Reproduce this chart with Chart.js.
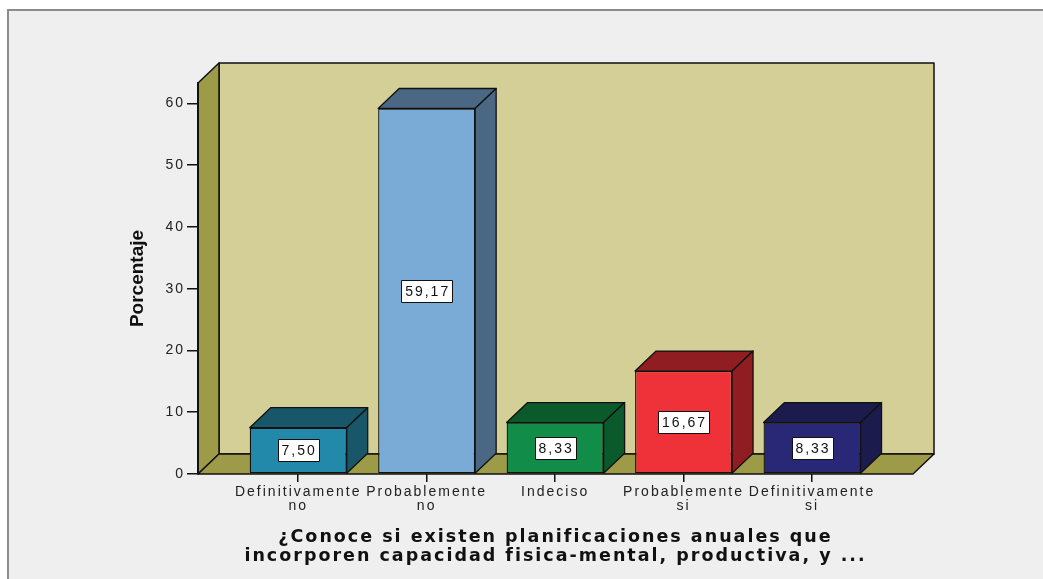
<!DOCTYPE html>
<html>
<head>
<meta charset="utf-8">
<script src="https://cdn.jsdelivr.net/npm/chart.js@4.4.1/dist/chart.umd.min.js"></script>
<style>
  html, body { margin: 0; padding: 0; background: #fff; }
  canvas { display: block; }
</style>
</head>
<body>
<canvas id="chart" width="1043" height="579"></canvas>
<script>
/* ---------- data ---------- */
const categories = [
  ['Definitivamente', 'no'],
  ['Probablemente', 'no'],
  ['Indeciso'],
  ['Probablemente', 'si'],
  ['Definitivamente', 'si']
];
const percentages = [7.50, 59.17, 8.33, 16.67, 8.33];
const yTicks = [0, 10, 20, 30, 40, 50, 60];

const yTitle = 'Porcentaje';
const xTitle = [
  '¿Conoce si existen planificaciones anuales que',
  'incorporen capacidad fisica-mental, productiva, y ...'
];

/* front face / darker top+side face per bar */
const frontColors = ['#2389ab', '#7aaad6', '#128d49', '#ef3139', '#282876'];
const shadeColors = ['#185669', '#4a6883', '#0b5a2c', '#8f1d22', '#1b1b4d'];

/* 3d depth offset */
const DX = 21, DY = 20;
const LINE = '#111';
const SPACING = '2px';   // the original renders its text a bit spread out

/* comma decimal like the original */
const fmt = v => v.toFixed(2).replace('.', ',');

function poly(ctx, pts, fill) {
  ctx.beginPath();
  ctx.moveTo(pts[0][0], pts[0][1]);
  for (let i = 1; i < pts.length; i++) ctx.lineTo(pts[i][0], pts[i][1]);
  ctx.closePath();
  ctx.fillStyle = fill;
  ctx.fill();
  ctx.stroke();
}

/* background frame + back wall, side wall and floor, then bar tops/sides */
const frame3d = {
  id: 'frame3d',
  beforeLayout(chart) { chart.ctx.letterSpacing = SPACING; },
  beforeDraw(chart) {
    const { ctx, chartArea: a } = chart;
    ctx.save();
    ctx.fillStyle = '#fff';
    ctx.fillRect(0, 0, chart.width, chart.height);
    ctx.fillStyle = '#efefef';
    ctx.fillRect(8, 10, chart.width, chart.height);
    ctx.strokeStyle = '#8c8c8c';
    ctx.lineWidth = 2;
    ctx.beginPath();
    ctx.moveTo(8, chart.height + 2);
    ctx.lineTo(8, 10);
    ctx.lineTo(chart.width + 2, 10);
    ctx.stroke();

    ctx.strokeStyle = LINE;
    ctx.lineWidth = 1.5;
    ctx.lineJoin = 'round';
    // back wall
    poly(ctx, [[a.left + DX, a.top - DY], [a.right + DX, a.top - DY],
               [a.right + DX, a.bottom - DY], [a.left + DX, a.bottom - DY]], '#d3cf97');
    // left wall
    poly(ctx, [[a.left, a.top], [a.left + DX, a.top - DY],
               [a.left + DX, a.bottom - DY], [a.left, a.bottom]], '#9e9b48');
    // floor
    poly(ctx, [[a.left, a.bottom], [a.left + DX, a.bottom - DY],
               [a.right + DX, a.bottom - DY], [a.right, a.bottom]], '#9e9b48');
    ctx.restore();
    ctx.letterSpacing = SPACING;
  },
  afterDatasetsDraw(chart) {
    const { ctx } = chart;
    const meta = chart.getDatasetMeta(0);
    ctx.save();
    ctx.strokeStyle = LINE;
    ctx.lineWidth = 1.3;
    ctx.lineJoin = 'round';
    meta.data.forEach((bar, i) => {
      const { x, y, base, width } = bar.getProps(['x', 'y', 'base', 'width'], true);
      const l = x - width / 2, r = x + width / 2;
      // top face
      poly(ctx, [[l, y], [l + DX, y - DY], [r + DX, y - DY], [r, y]], shadeColors[i]);
      // right side face
      poly(ctx, [[r, y], [r + DX, y - DY], [r + DX, base - DY], [r, base]], shadeColors[i]);
    });

    // value boxes
    ctx.font = '14px "Liberation Sans", Arial, sans-serif';
    ctx.textAlign = 'center';
    ctx.textBaseline = 'middle';
    ctx.lineWidth = 1;
    meta.data.forEach((bar, i) => {
      const { x, y, base } = bar.getProps(['x', 'y', 'base'], true);
      const txt = fmt(percentages[i]);
      const w = Math.round(ctx.measureText(txt).width + 6);
      const h = 22;
      const bx = Math.round(x - w / 2) + 0.5, by = Math.round((y + base) / 2 - h / 2) + 0.5;
      ctx.fillStyle = '#fff';
      ctx.fillRect(bx, by, w, h);
      ctx.strokeRect(bx, by, w, h);
      ctx.fillStyle = '#111';
      ctx.fillText(txt, x + 1, by + h / 2 + 1);
    });
    ctx.restore();
    // the y title layer (z:1) is drawn after this, without spacing
    ctx.letterSpacing = '0px';
  }
};

const tickFont = { family: '"Liberation Sans", Arial, sans-serif', size: 14, lineHeight: 1.0 };

new Chart(document.getElementById('chart'), {
  type: 'bar',
  data: {
    datasets: [{
      data: percentages.map((v, i) => ({ x: i, y: v })),
      backgroundColor: frontColors,
      borderColor: LINE,
      borderWidth: 1.3,
      borderSkipped: false,
      categoryPercentage: 1,
      barPercentage: 0.755
    }]
  },
  options: {
    responsive: false,
    animation: false,
    layout: { padding: { top: 83, right: 130, bottom: 0, left: 0 } },
    plugins: { legend: { display: false }, tooltip: { enabled: false } },
    scales: {
      x: {
        type: 'linear',
        offset: false,
        min: -0.78,
        max: 4.786,
        afterBuildTicks: s => { s.ticks = categories.map((c, i) => ({ value: i })); },
        afterFit: s => { s.height = 105; },
        grid: { offset: false, drawOnChartArea: false, tickLength: 8, color: LINE, lineWidth: 1.5 },
        border: { display: false },
        ticks: {
          callback: v => categories[v],
          font: tickFont,
          color: '#222',
          padding: 3,
          maxRotation: 0,
          autoSkip: false
        },
        title: {
          display: true,
          text: xTitle,
          color: '#111',
          font: { family: '"DejaVu Sans", Verdana, sans-serif', weight: 'bold', size: 17.5, lineHeight: 1.1 },
          padding: { top: 0, bottom: 13 }
        }
      },
      y: {
        min: 0,
        max: 63.3,
        weight: 0,
        afterBuildTicks: s => { s.ticks = yTicks.map(v => ({ value: v })); },
        afterFit: s => { s.width = 48; },
        grid: { drawOnChartArea: false, tickLength: 11, color: LINE, lineWidth: 1.5 },
        border: { display: true, color: LINE, width: 2 },
        ticks: { font: tickFont, color: '#222', padding: 2 }
      },
      // holds only the y title, drawn late (grid.z) so it gets no letter spacing
      yTitleAxis: {
        position: 'left',
        weight: 1,
        afterFit: s => { s.width = 150; },
        grid: { display: false, z: 1 },
        border: { display: false },
        ticks: { display: false },
        title: {
          display: true,
          text: yTitle,
          color: '#111',
          font: { family: '"Liberation Sans", Arial, sans-serif', weight: 'bold', size: 19, lineHeight: 1.2 },
          padding: { top: 126, bottom: 0 }
        }
      }
    }
  },
  plugins: [frame3d]
});
</script>
</body>
</html>
